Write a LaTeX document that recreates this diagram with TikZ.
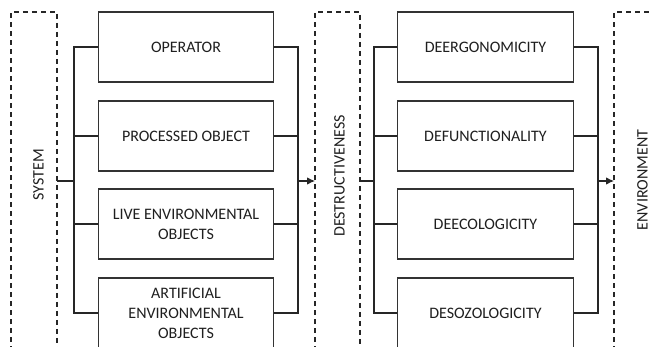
\documentclass[tikz,border=0pt]{standalone}
\usepackage{fontspec}
\setmainfont{Carlito}
\usetikzlibrary{arrows.meta,calc}
\begin{document}
\begin{tikzpicture}[x=1pt,y=-1pt,
  line width=1.1pt,
  ln/.style={draw=black!85},
  dsh/.style={draw=black!85,dash pattern=on 5pt off 4pt},
  bx/.style={draw=black!80,minimum width=175.5pt,minimum height=70pt,inner sep=2pt,align=center,
    font=\fontsize{16pt}{20pt}\selectfont,text=black!88},
  lab/.style={rotate=90,inner sep=0pt,font=\fontsize{16pt}{18pt}\selectfont,text=black!88},
  arr/.style={ln,-{Latex[length=8pt,width=7.5pt]}}]
\useasboundingbox (0,0) rectangle (653,347);
\clip (0,0) rectangle (653,347);
\fill[white] (0,0) rectangle (653,347);
% dashed frames
\draw[dsh] (11,360) -- (11,12) -- (57,12) -- (57,360);
\draw[dsh] (315,360) -- (315,12) -- (360,12) -- (360,360);
\draw[dsh] (614,360) -- (614,12) -- (670,12);
\node[lab] (sys) at (38.5,175) {SYSTEM};
\node[lab] (des) at (339.5,176) {DESTRUCTIVENESS};
\node[lab] (env) at (642.5,180) {ENVIRONMENT};
% left boxes
\node[bx] (a1) at (186,47) {OPERATOR};
\node[bx] (a2) at (186,136) {PROCESSED OBJECT};
\node[bx] (a3) at (186,224) {LIVE ENVIRONMENTAL\\OBJECTS};
\node[bx] (a4) at (186,313) {ARTIFICIAL\\ENVIRONMENTAL\\OBJECTS};
% right boxes
\node[bx] (b1) at (485.5,47) {DEERGONOMICITY};
\node[bx] (b2) at (485.5,136) {DEFUNCTIONALITY};
\node[bx] (b3) at (485.5,224) {DEECOLOGICITY};
\node[bx] (b4) at (485.5,313) {DESOZOLOGICITY};
% coordinates
\coordinate (sysR) at (57,181);
\coordinate (lin) at (74,181);
\coordinate (lout) at (298,181);
\coordinate (desL) at (315,181);
\coordinate (desR) at (360,181);
\coordinate (rin) at (374,181);
\coordinate (rout) at (598,181);
\coordinate (envL) at (614,181);
% left buses
\draw[ln] (a1.west) -| (lin) |- (a4.west);
\draw[ln] (a2.west) -- (a2.west-|lin);
\draw[ln] (a3.west) -- (a3.west-|lin);
\draw[ln] (sysR) -- (lin);
\draw[ln] (a1.east) -| (lout) |- (a4.east);
\draw[ln] (a2.east) -- (a2.east-|lout);
\draw[ln] (a3.east) -- (a3.east-|lout);
\draw[arr] (lout) -- (desL);
% right buses
\draw[ln] (b1.west) -| (rin) |- (b4.west);
\draw[ln] (b2.west) -- (b2.west-|rin);
\draw[ln] (b3.west) -- (b3.west-|rin);
\draw[ln] (desR) -- (rin);
\draw[ln] (b1.east) -| (rout) |- (b4.east);
\draw[ln] (b2.east) -- (b2.east-|rout);
\draw[ln] (b3.east) -- (b3.east-|rout);
\draw[arr] (rout) -- (envL);
\end{tikzpicture}
\end{document}
